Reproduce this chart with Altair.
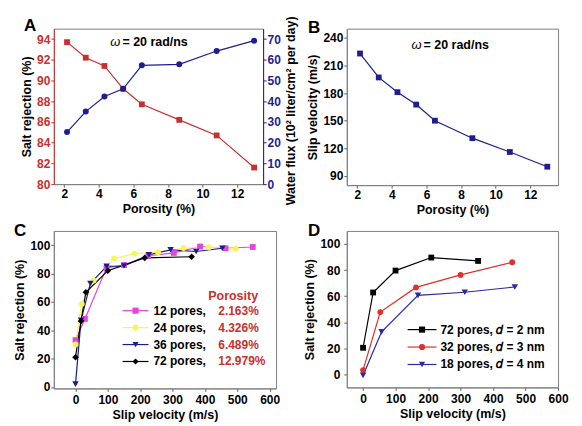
import altair as alt
import pandas as pd

# ---------------- data ----------------
porosity = [2.163, 3.245, 4.326, 5.408, 6.489, 8.652, 10.815, 12.979]
salt_rejection_a = [93.7, 92.2, 91.4, 89.2, 87.7, 86.2, 84.7, 81.6]
water_flux = [25.1, 35.0, 42.3, 46.0, 57.3, 57.8, 64.2, 69.2]
slip_velocity_b = [223, 197, 181, 167.5, 150, 131, 116, 100]

c_series = ["12 pores,", "24 pores,", "36 pores,", "72 pores,"]
c_porosity = ["2.163%", "4.326%", "6.489%", "12.979%"]
c_legend_title = ["Porosity"]
c12_x = [0, 29, 96, 150, 225, 304, 385, 464, 548]
c12_y = [33, 48, 84, 86, 92.5, 94.5, 99, 97.8, 98.7]
c24_x = [0, 19, 56, 119, 182, 255, 334, 412, 495]
c24_y = [30, 58.5, 75, 90.6, 94, 95, 98, 98.5, 97.5]
c36_x = [0, 17, 46, 96, 150, 227, 294, 373, 454]
c36_y = [2, 47, 73, 85, 85.3, 93.2, 96.7, 95.5, 97.8]
c72_x = [0, 17, 32, 100, 214, 359]
c72_y = [21, 46.5, 66.8, 82, 91, 91.8]

d_series = ["72 pores, \U0001D451 = 2 nm", "32 pores, \U0001D451 = 3 nm", "18 pores, \U0001D451 = 4 nm"]
d72_x = [0, 31, 100, 210, 354]
d72_y = [20.4, 62.8, 79.6, 89.6, 87]
d32_x = [0, 53, 163, 300, 459]
d32_y = [3.3, 47.8, 66.7, 76.3, 86]
d18_x = [0, 57, 169, 313, 467]
d18_y = [-0.8, 32.6, 60.6, 63, 67]

omega_label = ["= 20 rad/ns"]

# ---------------- style ----------------
FONT = "Liberation Sans"
RED = "#c8302e"
NAVY = "#1e1e92"
C_COLORS = ["#e045dc", "#f6f65a", "#1c1c8e", "#000000"]
C_SHAPES = ["square", "circle", "triangle-down", "diamond"]
D_COLORS = ["#000000", "#e0302c", "#2a2aa2"]
D_SHAPES = ["square", "circle", "triangle-down"]
MARK_SIZE = {"square": 34, "circle": 34, "triangle-down": 42, "diamond": 44}


def panel_title(letter, dx, dy):
    return alt.TitleParams(letter, anchor="start", frame="group", dx=dx, dy=dy, offset=3,
                           fontSize=17, fontWeight="bold", font=FONT, color="black")


def ax(values, **kw):
    return alt.Axis(values=values, tickCount=len(values), labelOverlap=False, labelFlush=False, **kw)


# ---------------- panel A ----------------
dfa = pd.DataFrame({"porosity": porosity, "salt": salt_rejection_a, "flux": water_flux})
xa = alt.X("porosity:Q", scale=alt.Scale(domain=[1.4, 13.5], nice=False, zero=False),
           axis=ax([2, 4, 6, 8, 10, 12], title="Porosity (%)"))
ya = alt.Y("salt:Q", scale=alt.Scale(domain=[80, 95], nice=False, zero=False),
           axis=ax(list(range(80, 95, 2)), title="Salt rejection (%)",
                   labelColor=RED, domainColor=RED, tickColor=RED))
yf = alt.Y("flux:Q", scale=alt.Scale(domain=[0, 75], nice=False, zero=False),
           axis=ax(list(range(0, 71, 10)), orient="right",
                   title="Water flux (10² liter/cm² per day)", titleAngle=270,
                   titleBaseline="top", titlePadding=4, titleY=82,
                   labelColor=NAVY, domainColor=NAVY, tickColor=NAVY))

ann_a = pd.DataFrame({"porosity": [5.25], "salt": [93.7], "t": omega_label})
omega_a = alt.Chart(ann_a).mark_text(text="ω", align="right", baseline="middle",
                                     fontStyle="italic", fontSize=13, font=FONT).encode(
    x="porosity:Q", y="salt:Q")
lab_a = alt.Chart(ann_a).mark_text(align="left", baseline="middle", dx=2, fontWeight="bold",
                                   fontSize=12.5, font=FONT).encode(
    x="porosity:Q", y="salt:Q", text="t:N")

left_a = alt.layer(
    alt.Chart(dfa).mark_line(color=RED, strokeWidth=1.2).encode(x=xa, y=ya),
    alt.Chart(dfa).mark_square(color=RED, size=34, opacity=1).encode(x=xa, y=ya),
    omega_a, lab_a,
)
right_a = alt.layer(
    alt.Chart(dfa).mark_line(color=NAVY, strokeWidth=1.2).encode(x=xa, y=yf),
    alt.Chart(dfa).mark_circle(color=NAVY, size=36, opacity=1).encode(x=xa, y=yf),
)
chart_a = alt.layer(left_a, right_a).resolve_scale(y="independent").properties(
    width=210, height=156, title=panel_title("A", -30, 22))

# ---------------- panel B ----------------
dfb = pd.DataFrame({"porosity": porosity, "slip": slip_velocity_b})
xb = alt.X("porosity:Q", scale=alt.Scale(domain=[1.4, 13.6], nice=False, zero=False),
           axis=ax([2, 4, 6, 8, 10, 12], title="Porosity (%)"))
yb = alt.Y("slip:Q", scale=alt.Scale(domain=[80, 250], nice=False, zero=False),
           axis=ax(list(range(90, 241, 30)), title="Slip velocity (m/s)"))
ann_b = pd.DataFrame({"porosity": [5.72], "slip": [232], "t": omega_label})
chart_b = alt.layer(
    alt.Chart(dfb).mark_line(color=NAVY, strokeWidth=1.2).encode(x=xb, y=yb),
    alt.Chart(dfb).mark_square(color=NAVY, size=34, opacity=1).encode(x=xb, y=yb),
    alt.Chart(ann_b).mark_text(text="ω", align="right", baseline="middle", fontStyle="italic",
                               fontSize=13, font=FONT).encode(x="porosity:Q", y="slip:Q"),
    alt.Chart(ann_b).mark_text(align="left", baseline="middle", dx=2, fontWeight="bold",
                               fontSize=12.5, font=FONT).encode(x="porosity:Q", y="slip:Q", text="t:N"),
).properties(width=212, height=157, title=panel_title("B", -39, 11))


# ---------------- helpers for C / D ----------------
def series_frame(names, xs_list, ys_list):
    rows = []
    for name, xs, ys in zip(names, xs_list, ys_list):
        for i, (xv, yv) in enumerate(zip(xs, ys)):
            rows.append({"series": name, "v": xv, "r": yv, "i": i})
    return pd.DataFrame(rows)


def series_panel(df, names, colors, shapes, x, y, leg):
    """leg: legend layout (line_x0, line_x1, label_x, row_range, optional pct/title)."""
    col = alt.Color("series:N", scale=alt.Scale(domain=names, range=colors), legend=None)
    main = [alt.Chart(df).mark_line(strokeWidth=1.2).encode(
        x=x, y=y, color=col, detail="series:N", order="i:Q")]
    for name, color, shape in zip(names, colors, shapes):
        main.append(alt.Chart(df).transform_filter(alt.datum.series == name).mark_point(
            filled=True, shape=shape, size=MARK_SIZE[shape], color=color, opacity=1).encode(x=x, y=y))

    ldf = pd.DataFrame({"series": names, "row": list(range(len(names)))})
    if "pct" in leg:
        ldf["pct"] = leg["pct"]
    ly = alt.Y("row:Q", scale=alt.Scale(domain=[0, len(names) - 1], range=leg["row_range"]), axis=None)
    lshape = alt.Shape("series:N", scale=alt.Scale(domain=names, range=shapes), legend=None)
    mid = (leg["line_x0"] + leg["line_x1"]) / 2
    legend_layers = [
        alt.Chart(ldf).mark_rule(strokeWidth=1.2).encode(
            x=alt.value(leg["line_x0"]), x2=alt.value(leg["line_x1"]), y=ly, color=col),
        alt.Chart(ldf).mark_point(filled=True, size=38, opacity=1).encode(
            x=alt.value(mid), y=ly, color=col, shape=lshape),
        alt.Chart(ldf).mark_text(align="left", baseline="middle", fontSize=12, fontWeight="bold",
                                 font=FONT, color="black").encode(
            x=alt.value(leg["label_x"]), y=ly, text="series:N"),
    ]
    if "pct" in leg:
        legend_layers.append(
            alt.Chart(ldf).mark_text(align="left", baseline="middle", fontSize=12, fontWeight="bold",
                                     font=FONT, color=RED).encode(
                x=alt.value(leg["pct_x"]), y=ly, text="pct:N"))
        tdf = pd.DataFrame({"t": leg["title"]})
        legend_layers.append(
            alt.Chart(tdf).mark_text(align="left", baseline="middle", fontSize=12.5, fontWeight="bold",
                                     font=FONT, color=RED).encode(
                x=alt.value(leg["title_x"]), y=alt.value(leg["title_y"]), text="t:N"))
    return alt.layer(alt.layer(*main), alt.layer(*legend_layers)).resolve_scale(y="independent")


# ---------------- panel C ----------------
dfc = series_frame(c_series, [c12_x, c24_x, c36_x, c72_x], [c12_y, c24_y, c36_y, c72_y])
xc = alt.X("v:Q", scale=alt.Scale(domain=[-67, 620], nice=False, zero=False),
           axis=ax(list(range(0, 601, 100)), title="Slip velocity (m/s)", labelPadding=3))
yc = alt.Y("r:Q", scale=alt.Scale(domain=[-1, 110], nice=False, zero=False),
           axis=ax(list(range(0, 101, 20)), title="Salt rejection (%)", labelPadding=1))
leg_c = dict(line_x0=69, line_x1=95, label_x=100, row_range=[80, 131],
             pct=c_porosity, pct_x=165, title=c_legend_title, title_x=155, title_y=65)
chart_c = series_panel(dfc, c_series, C_COLORS, C_SHAPES, xc, yc, leg_c
                       ).properties(width=223, height=158, title=panel_title("C", -40, 12))

# ---------------- panel D ----------------
dfd = series_frame(d_series, [d72_x, d32_x, d18_x], [d72_y, d32_y, d18_y])
xd = alt.X("v:Q", scale=alt.Scale(domain=[-50, 600], nice=False, zero=False),
           axis=ax(list(range(0, 601, 100)), title="Slip velocity (m/s)", labelPadding=3))
yd = alt.Y("r:Q", scale=alt.Scale(domain=[-10, 110], nice=False, zero=False),
           axis=ax(list(range(0, 101, 20)), title="Salt rejection (%)", labelPadding=4))
leg_d = dict(line_x0=61, line_x1=90, label_x=94, row_range=[99, 134])
chart_d = series_panel(dfd, d_series, D_COLORS, D_SHAPES, xd, yd, leg_d
                       ).properties(width=212, height=157, title=panel_title("D", -39, 12))

# ---------------- assemble ----------------
chart = alt.concat(chart_a, chart_b, chart_c, chart_d, columns=2,
                   spacing={"row": 46, "column": 71}, bounds="flush").resolve_scale(
    color="independent", shape="independent"
).properties(
    padding={"left": 5, "top": 6, "right": 5, "bottom": 5}
).configure(font=FONT).configure_view(stroke="#808080", strokeWidth=1).configure_axis(
    grid=False, labelFont=FONT, labelFontSize=12, labelFontWeight="bold", labelColor="black",
    titleFont=FONT, titleFontSize=12.5, titleFontWeight="bold", titleColor="black",
    tickSize=3, tickColor="#606060", domainColor="#808080", labelPadding=1, titlePadding=3,
)

chart.save("out.html", embed_options={"renderer": "svg", "actions": False})
